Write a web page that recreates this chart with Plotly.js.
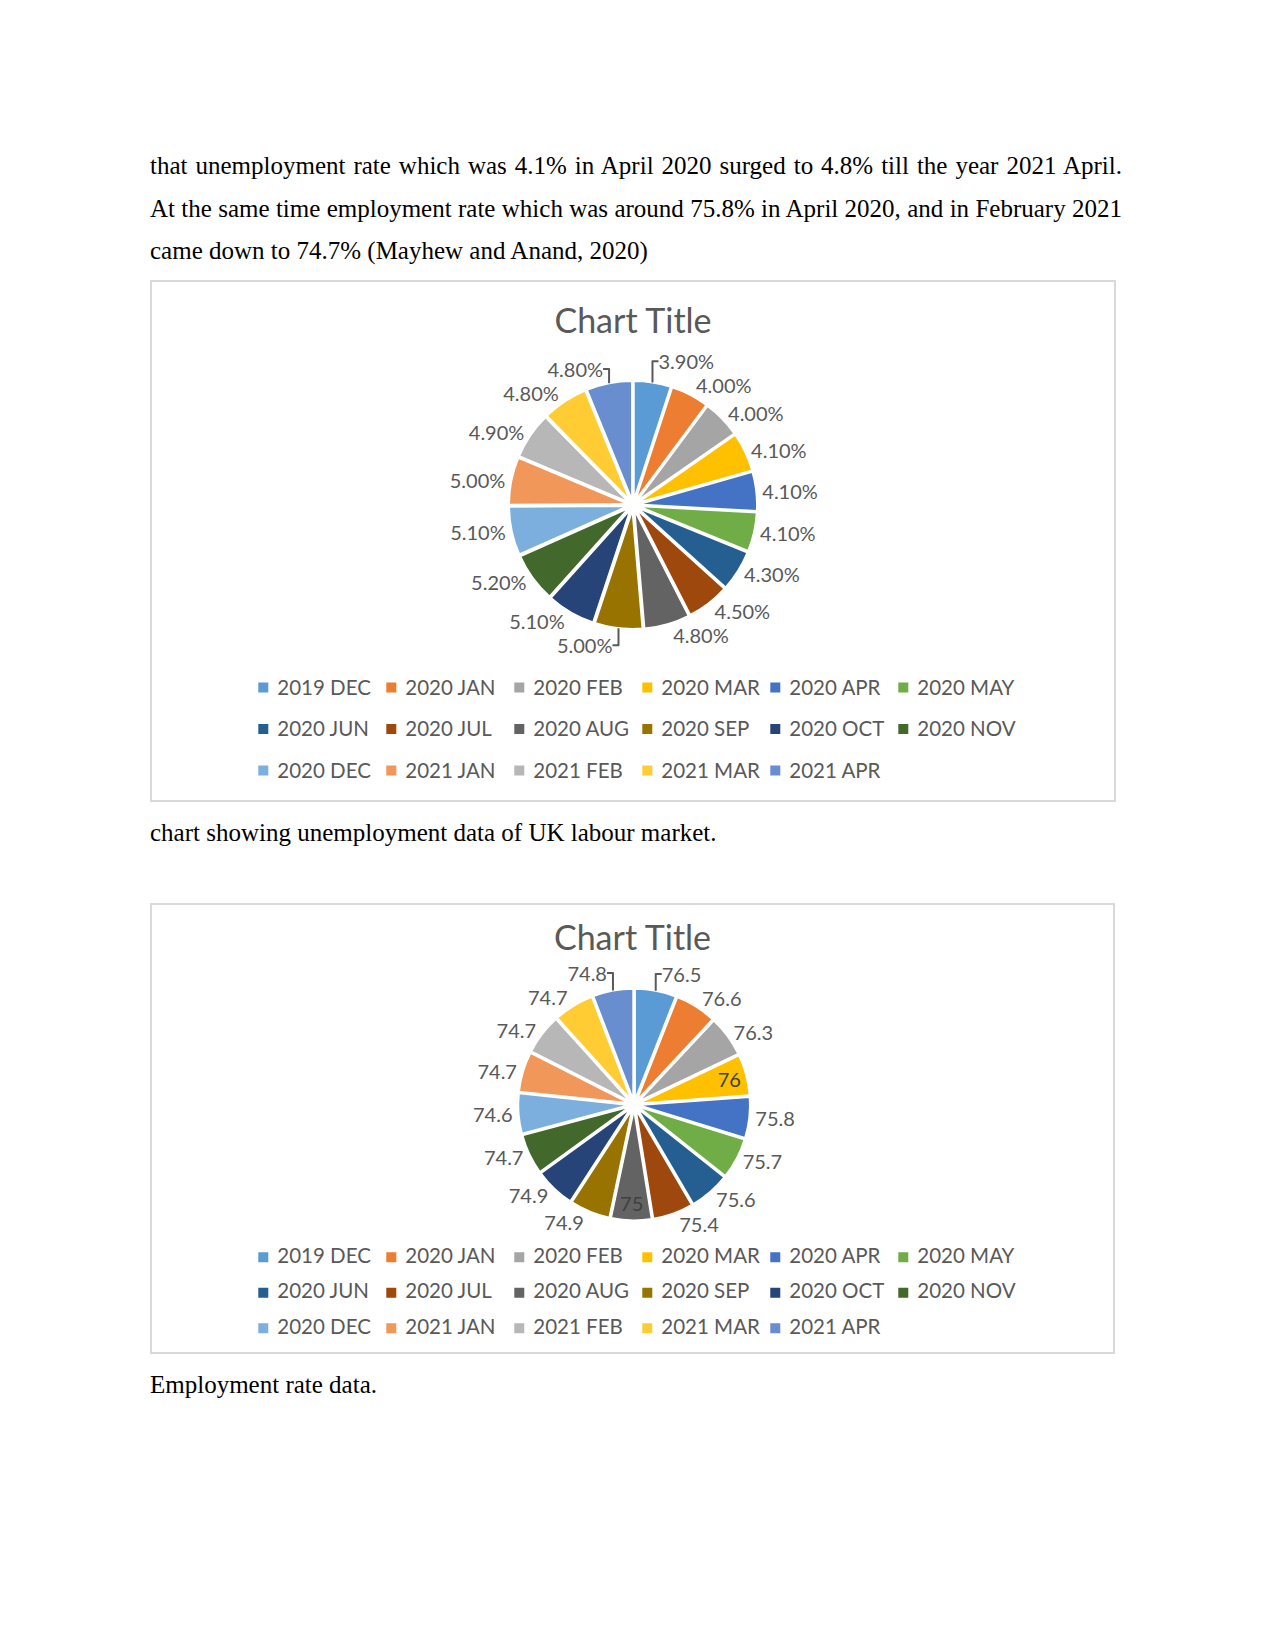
<!DOCTYPE html>
<html>
<head>
<meta charset="utf-8">
<script src="https://cdn.plot.ly/plotly-3.0.1.min.js"></script>
<style>
body { margin:0; background:#fff; width:1275px; height:1650px; position:relative; font-family:"Liberation Serif", "Times New Roman", serif; color:#000; }
.line { position:absolute; left:150px; width:972px; font-size:25px; line-height:43px; white-space:nowrap; }
.just { text-align:justify; text-align-last:justify; }
.box { position:absolute; left:150px; border:2px solid #d9d9d9; box-sizing:border-box; }
</style>
</head>
<body>
<div class="line just" style="top:144px">that unemployment rate which was 4.1% in April 2020 surged to 4.8% till the year 2021 April.</div>
<div class="line just" style="top:186.5px">At the same time employment rate which was around 75.8% in April 2020, and in February 2021</div>
<div class="line" style="top:229px">came down to 74.7% (Mayhew and Anand, 2020)</div>

<div class="box" style="top:280px;width:966px;height:522px"><div id="chart1" style="width:962px;height:518px"></div></div>
<div class="line" style="top:811px">chart showing unemployment data of UK labour market.</div>

<div class="box" style="top:903px;width:965px;height:451px"><div id="chart2" style="width:961px;height:447px"></div></div>
<div class="line" style="top:1363px">Employment rate data.</div>

<script>
// months Dec 2019 - Apr 2021, clockwise from 12 o'clock
var months = ['2019 DEC', '2020 JAN', '2020 FEB', '2020 MAR', '2020 APR', '2020 MAY',
  '2020 JUN', '2020 JUL', '2020 AUG', '2020 SEP', '2020 OCT', '2020 NOV',
  '2020 DEC', '2021 JAN', '2021 FEB', '2021 MAR', '2021 APR'];

// unemployment rate, %
var unemployment = [3.9, 4.0, 4.0, 4.1, 4.1, 4.1, 4.3, 4.5, 4.8, 5.0, 5.1, 5.2, 5.1, 5.0, 4.9, 4.8, 4.8];

// employment rate, %
var employment = [76.5, 76.6, 76.3, 76, 75.8, 75.7, 75.6, 75.4, 75, 74.9, 74.9, 74.7, 74.6, 74.7, 74.7, 74.7, 74.8];

// office palette
var sliceColors = ['#5B9BD5', '#ED7D31', '#A5A5A5', '#FFC000', '#4472C4', '#70AD47',
  '#255E91', '#9E480E', '#636363', '#997300', '#264478', '#43682B',
  '#7CAFDD', '#F1975A', '#B7B7B7', '#FFCD33', '#698ED0'];

var grey = '#595959';
var font = 'Lato, "Open Sans", sans-serif';

// legend rows in excel are spaced wider than plotly does, so the legend font is big
// and the label text itself is set back to normal size
function legendNames(sz) {
  return months.map(function (m) { return '<span style="font-size:' + sz + 'px">' + m + '</span>'; });
}

function makePie(id, values, tmpl, textpos, dom, titleY, legX, legY, legSize) {
  var trace = {
    type: 'pie',
    labels: legendNames(20.5),
    values: values,
    sort: false,
    direction: 'clockwise',
    rotation: 0,
    pull: 0.04,
    texttemplate: tmpl,
    textposition: textpos,
    outsidetextfont: { family: font, size: 20, color: grey },
    insidetextfont: { family: font, size: 20, color: '#404040' },
    marker: { colors: sliceColors, line: { color: '#ffffff', width: 2 } },
    domain: dom,
    hoverinfo: 'none'
  };
  var layout = {
    margin: { l: 78, r: 78, t: 0, b: 0 },
    paper_bgcolor: '#ffffff',
    font: { family: font, color: grey },
    title: { text: 'Chart Title', x: 0.5, xanchor: 'center', y: titleY, yanchor: 'middle', yref: 'container',
      font: { family: font, size: 34, color: grey } },
    showlegend: true,
    legend: { orientation: 'h', x: legX, xanchor: 'left', y: legY, yanchor: 'top',
      entrywidth: 83, entrywidthmode: 'pixels', traceorder: 'normal',
      font: { family: font, size: legSize, color: grey } }
  };
  return Plotly.newPlot(id, [trace], layout, { displayModeBar: false, staticPlot: true }).then(function (gd) {
    // excel keeps legend text tight to the swatch and level with it
    gd.querySelectorAll('.legendtext').forEach(function (t) {
      t.setAttribute('y', parseFloat(t.getAttribute('y') || 0) - 4);
      t.setAttribute('x', parseFloat(t.getAttribute('x') || 0) - 6);
    });
    gd.querySelectorAll('.legend .scrollbox').forEach(function (s) { s.removeAttribute('clip-path'); });
  });
}

makePie('chart1', unemployment, '%{value:.2f}%', 'outside',
  { x: [0.345, 0.655], y: [0.33, 0.809] }, 0.925, 0.0165, 0.267, 29.6);

var empPos = employment.map(function (v, i) {
  return (months[i] === '2020 MAR' || months[i] === '2020 AUG') ? 'inside' : 'outside';
});
makePie('chart2', employment, '%{value}', empPos,
  { x: [0.358, 0.646], y: [0.294, 0.813] }, 0.926, 0.0165, 0.263, 25);
</script>
</body>
</html>
